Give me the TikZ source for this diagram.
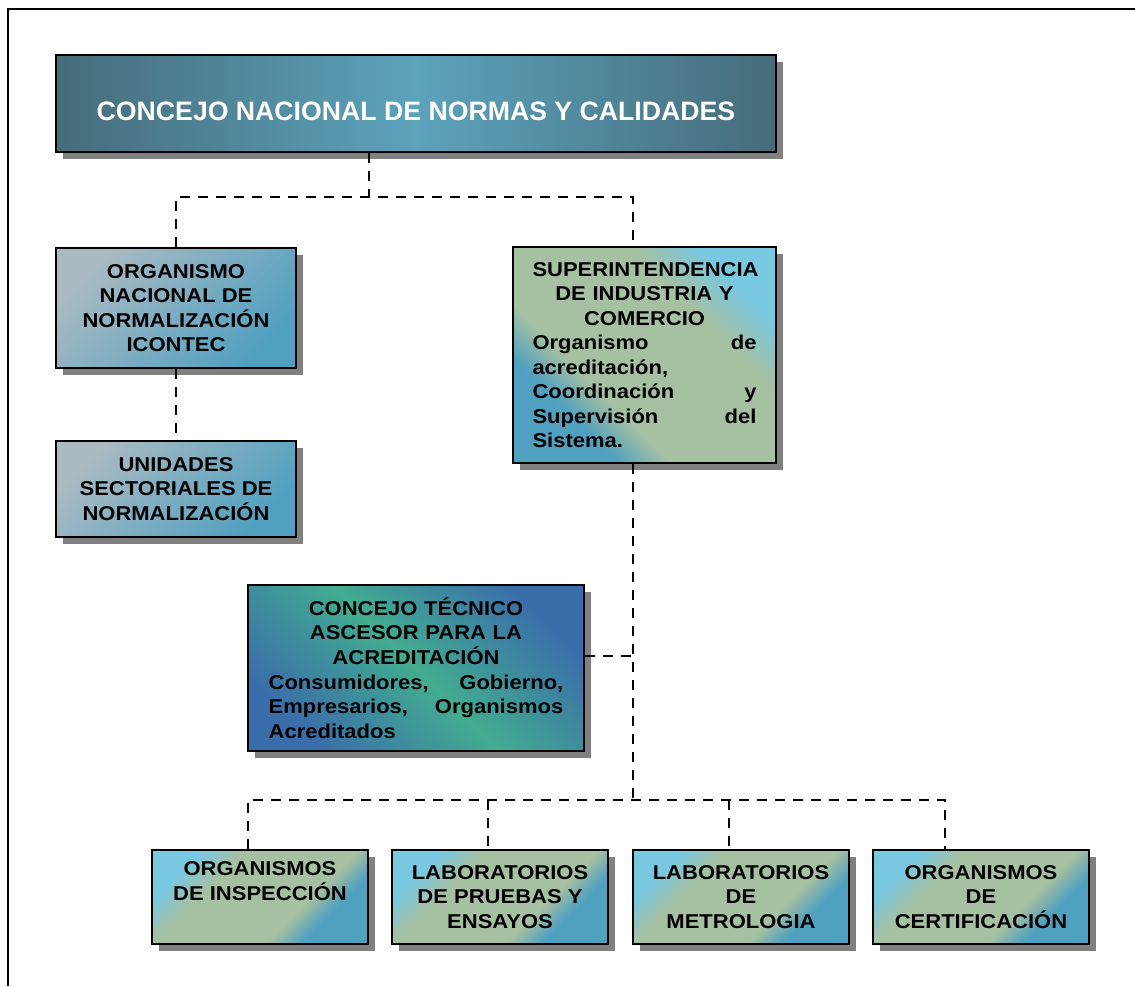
\documentclass[tikz,border=0pt]{standalone}
\usepackage{fontspec}
\setmainfont{Liberation Sans}[FakeStretch=1.1]
\newfontfamily\titlefont{Liberation Sans}
\usetikzlibrary{shadows}

\definecolor{cnDark}{RGB}{70,108,122}
\definecolor{cnLight}{RGB}{92,163,188}
\definecolor{greyBlue}{RGB}{170,186,194}
\definecolor{tealA}{RGB}{80,160,192}
\definecolor{tealB}{RGB}{120,200,225}
\definecolor{sage}{RGB}{166,192,162}
\definecolor{ctaGreen}{RGB}{66,172,144}
\definecolor{ctaBlue}{RGB}{58,110,170}
\definecolor{shadowGrey}{RGB}{128,128,128}

\pgfdeclareverticalshading{sagecross}{100bp}{color(0bp)=(tealA); color(30bp)=(tealA);
  color(38bp)=(sage); color(64bp)=(sage); color(74bp)=(tealB); color(100bp)=(tealB)}

\newcommand{\spreadrow}[2]{\makebox[\hsize][s]{#1\hfill #2}}
\newcommand{\leftrow}[1]{\makebox[\hsize][l]{#1}}

\tikzset{every picture/.style={line width=0.75pt}}
\tikzset{
  orgbox/.style={draw=black, line width=1.5pt, inner sep=0pt, align=center,
    font=\bfseries\fontsize{15}{18.4}\selectfont,
    general shadow={fill=shadowGrey, shadow xshift=5pt, shadow yshift=-5pt}},
  headbox/.style={orgbox, text=white, font=\titlefont\bfseries\fontsize{20}{24}\selectfont,
    left color=cnDark, right color=cnDark, middle color=cnLight},
  normbox/.style={orgbox, left color=greyBlue, right color=tealA, shading angle=45},
  supbox/.style={orgbox, shading=sagecross, shading angle=315},
  ctabox/.style={orgbox, left color=ctaBlue, right color=ctaBlue, middle color=ctaGreen, shading angle=135},
  unitbox/.style={orgbox, shading=sagecross, shading angle=45,
    minimum width=162pt, minimum height=70.5pt},
  linkline/.style={draw=black, line width=1.9pt, dash pattern=on 7.5pt off 6pt},
}

\begin{document}
\begin{tikzpicture}[x=0.75pt,y=0.75pt,yscale=-1,xscale=1]
	\useasboundingbox (0,0) rectangle (1135,986);

	%Frame
	\draw [line width=1.5pt] (8,986) -- (8,9) -- (1135,9) ;

	%Shape: Rectangle [id:cnnc]
	\node [headbox, text height=25.5pt, text depth=0pt, minimum width=540pt, minimum height=72.75pt] (cnnc) at (416,103.5) {CONCEJO NACIONAL DE NORMAS Y CALIDADES};
	%Shape: Rectangle [id:onn]
	\node [normbox, minimum width=180pt, minimum height=90pt] (onn) at (176,308) {ORGANISMO\\NACIONAL DE\\NORMALIZACIÓN\\ICONTEC};
	%Shape: Rectangle [id:usn]
	\node [normbox, minimum width=180pt, minimum height=72pt] (usn) at (176,489) {UNIDADES\\SECTORIALES DE\\NORMALIZACIÓN};
	%Shape: Rectangle [id:sic]
	\node [supbox, text width=168pt, minimum width=197.25pt, minimum height=162pt] (sic) at (644.5,355)
	  {SUPERINTENDENCIA\\DE INDUSTRIA Y\\COMERCIO\\
	   \spreadrow{Organismo}{de}\\\leftrow{acreditación,}\\\spreadrow{Coordinación}{y}\\
	   \spreadrow{Supervisión}{del}\\\leftrow{Sistema.}};
	%Shape: Rectangle [id:cta]
	\node [ctabox, text width=221pt, minimum width=252pt, minimum height=124.5pt] (cta) at (416,668)
	  {CONCEJO TÉCNICO\\ASCESOR PARA LA\\ACREDITACIÓN\\
	   \spreadrow{Consumidores,}{Gobierno,}\\\spreadrow{Empresarios,}{Organismos}\\\leftrow{Acreditados}};

	%Shape: Rectangle [id:insp]
	\node [unitbox] (insp) at (260,897) {ORGANISMOS\\DE INSPECCIÓN\\\strut};
	%Shape: Rectangle [id:labp]
	\node [unitbox] (labp) at (500,897) {LABORATORIOS\\DE PRUEBAS Y\\ENSAYOS};
	%Shape: Rectangle [id:labm]
	\node [unitbox] (labm) at (741,897) {LABORATORIOS\\DE\\METROLOGIA};
	%Shape: Rectangle [id:cert]
	\node [unitbox] (cert) at (981,897) {ORGANISMOS\\DE\\CERTIFICACIÓN};

	%Straight Lines
	\coordinate (ja) at (369,197) ;
	\coordinate (jb) at (633,197) ;
	\coordinate (jc) at (633,800) ;
	\coordinate (ka) at (248,800) ;
	\coordinate (kb) at (488,800) ;
	\coordinate (kc) at (729,800) ;
	\coordinate (kd) at (945,800) ;
	\draw [linkline] (ja |- cnnc.south) -- (ja) ;
	\draw [linkline] (onn.north) -- (onn.north |- ja) -- (jb) -- (jb |- sic.north) ;
	\draw [linkline] (onn.south) -- (usn.north) ;
	\draw [linkline] (jc |- sic.south) -- (jc) ;
	\draw [linkline] ([yshift=-9pt]cta.east) -- ([yshift=-9pt]cta.east -| jc) ;
	\draw [linkline] (ka |- insp.north) -- (ka) -- (kd) -- (kd |- cert.north) ;
	\draw [linkline] (kb) -- (kb |- labp.north) ;
	\draw [linkline] (kc) -- (kc |- labm.north) ;

\end{tikzpicture}
\end{document}
